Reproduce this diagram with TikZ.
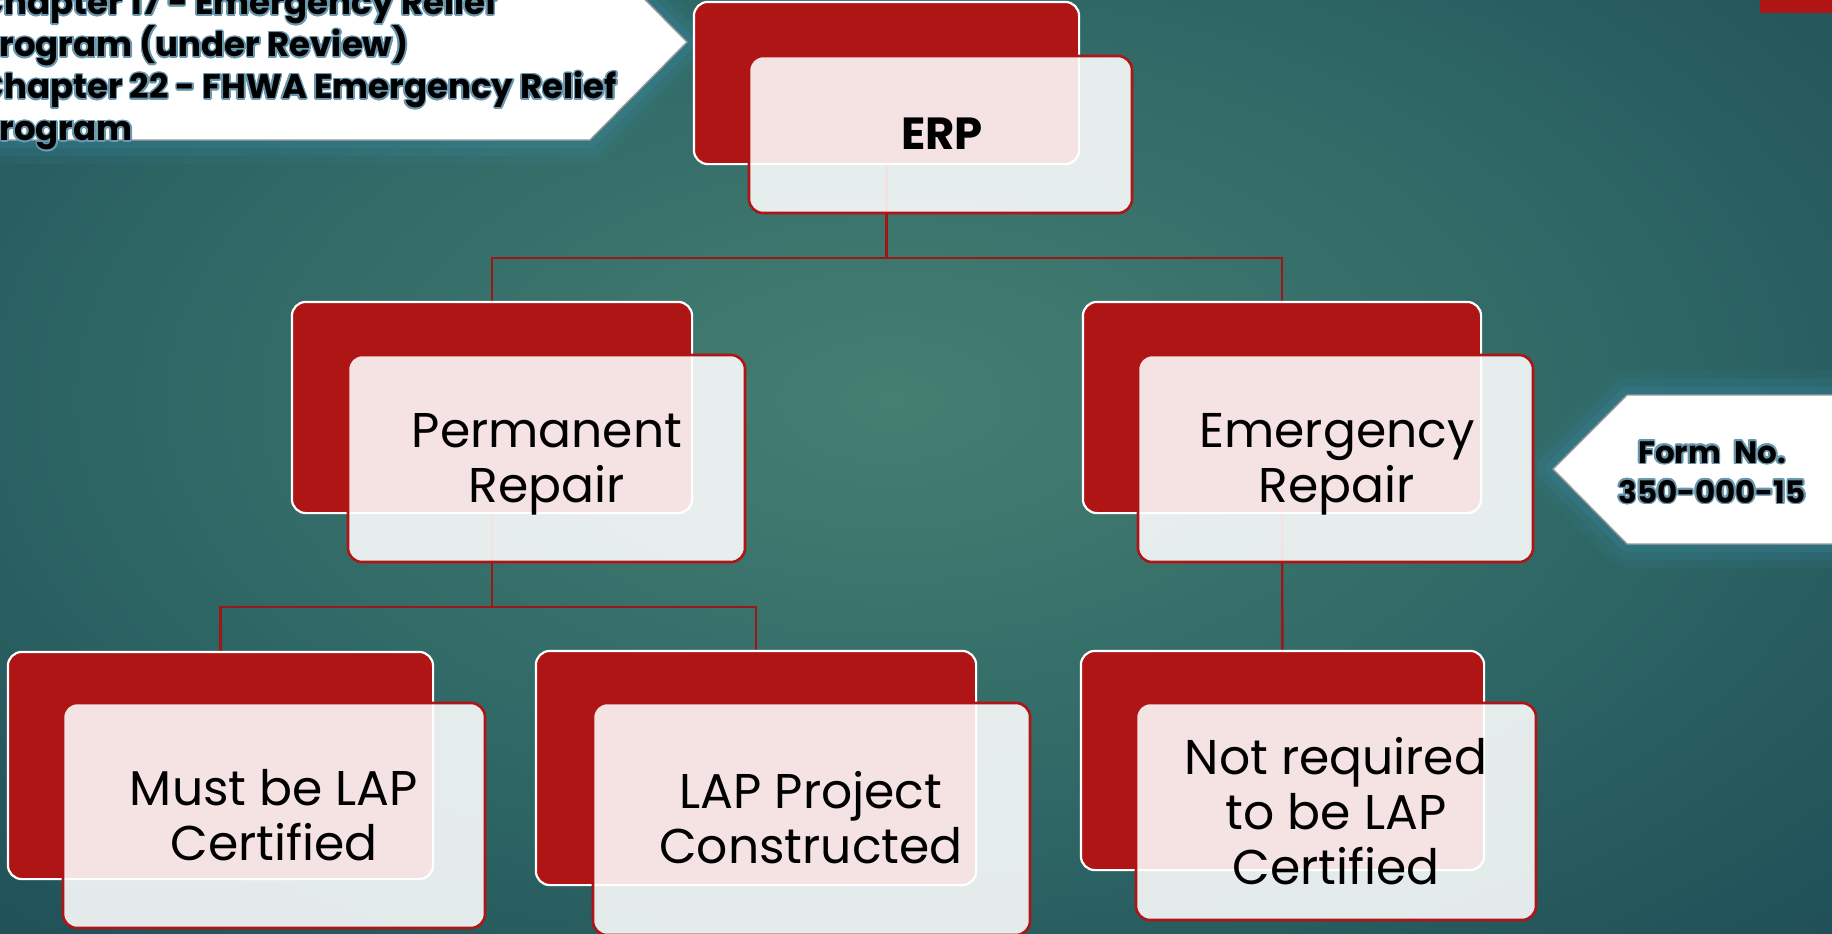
\documentclass[tikz,border=0pt]{standalone}
\usepackage{fontspec}
\setmainfont{Poppins}
\usepackage{contour}
\contourlength{0.8pt}
\usetikzlibrary{fit,calc}
\definecolor{bgA}{HTML}{457F72}
\definecolor{bgB}{HTML}{2F6866}
\definecolor{bgC}{HTML}{1A4552}
\definecolor{boxred}{HTML}{AF1515}
\definecolor{linered}{HTML}{9E1616}
\definecolor{outl}{HTML}{6A98AE}
\definecolor{glowc}{HTML}{3B8CA8}
\pgfdeclareradialshading{bgshade}{\pgfpoint{0bp}{0bp}}{color(0bp)=(bgA); color(18bp)=(bgB); color(40bp)=(bgC); color(50bp)=(bgC)}
\begin{document}
\begin{tikzpicture}[x=0.5pt,y=-0.5pt,
  backbox/.style={draw=white, line width=1.1pt, fill=boxred, rounded corners=7pt, inner sep=0pt},
  frontbox/.style={draw=boxred, line width=1.3pt, fill=white, fill opacity=0.88, rounded corners=7pt, inner sep=0pt},
  boxtext/.style={font=\fontsize{24.4}{27.5}\selectfont, align=center, text=black, inner sep=0pt},
  conn/.style={draw=linered, line width=1.2pt},
  callout/.style={fill=white, draw=gray!80, line width=0.7pt},
  glowline/.style={draw=glowc, line join=round},
  calltext/.style={font=\fontsize{17}{21}\selectfont\bfseries, inner sep=0pt, align=left},
  formtext/.style={font=\fontsize{15.5}{20}\selectfont\bfseries, inner sep=0pt, align=center},
]
\useasboundingbox (0,0) rectangle (1832,933);
\begin{scope}
\clip (0,0) rectangle (1832,933);
\shade[shading=bgshade] (-100,-160) rectangle (1880,960);
% glows around callouts
\foreach \w/\o in {24/0.10,16/0.14,8/0.2}{
  \draw[glowline, line width=\w pt, opacity=\o] (-20,-56) -- (590,-56) -- (687,42) -- (590,140) -- (-20,140) -- cycle;
  \draw[glowline, line width=\w pt, opacity=\o] (1553,469) -- (1627,395) -- (1850,395) -- (1850,544) -- (1627,544) -- cycle;
}
% callouts
\draw[callout] (-20,-56) -- (590,-56) -- (687,42) -- (590,140) -- (-20,140) -- cycle;
\node[calltext, anchor=south west] (chap) at (-22,152) {\contour{outl}{Chapter 17 - Emergency Relief}\\\contour{outl}{Program (under Review)}\\\contour{outl}{Chapter 22 - FHWA Emergency Relief}\\\contour{outl}{Program}};
\draw[callout] (1553,469) -- (1627,395) -- (1850,395) -- (1850,544) -- (1627,544) -- cycle;
\node[formtext] (form) at (1712,473) {\contour{outl}{Form\ \ No.}\\\contour{outl}{350-000-15}};
% top right bar
\fill[boxred] (1760,0) rectangle (1832,13);
\end{scope}

% back boxes (nodes)
\node[backbox, fit={(695,3)(1078,163)}] (erpb) {};
\node[backbox, fit={(293,303)(691,512)}] (permb) {};
\node[backbox, fit={(1084,303)(1480,512)}] (emerb) {};
\node[backbox, fit={(9,653)(432,878)}] (mustb) {};
\node[backbox, fit={(537,652)(975,884)}] (lapb) {};
\node[backbox, fit={(1082,652)(1483,869)}] (notb) {};

% connectors
\draw[conn] (erpb.center) -- (erpb.center |- 0,258) -| (permb.center);
\draw[conn] (erpb.center |- 0,258) -| (emerb.center);
\draw[conn] (permb.center) -- (permb.center |- 0,607) -| (mustb.center);
\draw[conn] (permb.center |- 0,607) -| (lapb.center);
\draw[conn] (emerb.center) -- (notb.center);

% redraw back boxes on top of connectors
\foreach \n in {erpb,permb,emerb,mustb,lapb,notb}{
  \path[backbox] (\n.north west) rectangle (\n.south east);
}

% front boxes
\node[frontbox, fit={(749,56)(1132,213)}] (erpf) {};
\node[frontbox, fit={(348,355)(745,562)}] (permf) {};
\node[frontbox, fit={(1138,355)(1533,562)}] (emerf) {};
\node[frontbox, fit={(63,703)(485,928)}] (mustf) {};
\node[frontbox, fit={(593,703)(1030,935)}] (lapf) {};
\node[frontbox, fit={(1136,703)(1536,920)}] (notf) {};

% texts
\node[boxtext, font=\fontsize{22.5}{27.5}\selectfont\bfseries] (erpt) at (942,134) {ERP};
\node[boxtext] (permt) at (547,464) {Permanent\\Repair};
\node[boxtext] (emert) at (1337,464) {Emergency\\Repair};
\node[boxtext] (mustt) at (274,815) {Must be LAP\\Certified};
\node[boxtext] (lapt) at (811,818) {LAP Project\\Constructed};
\node[boxtext] (nott) at (1336,811) {Not required\\to be LAP\\Certified};
\end{tikzpicture}
\end{document}
